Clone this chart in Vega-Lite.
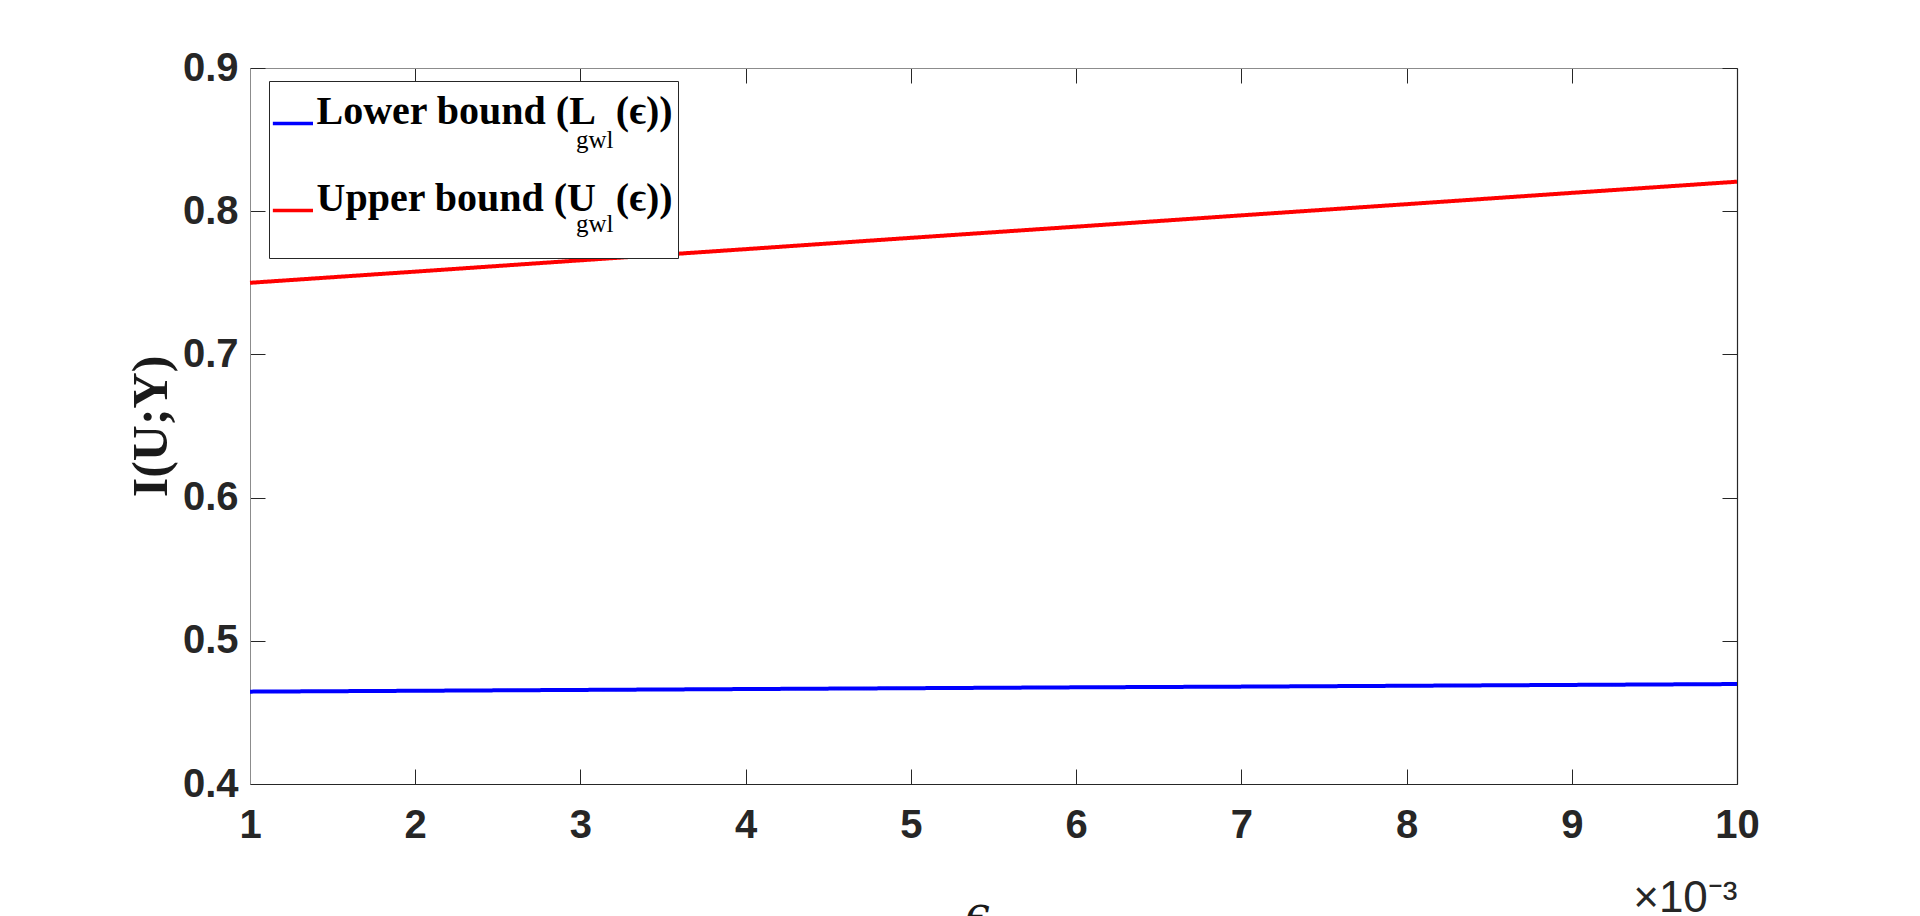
{
  "$schema": "https://vega.github.io/schema/vega-lite/v6.json",
  "width": 1487,
  "height": 716,
  "autosize": {"type": "none"},
  "padding": {"left": 250, "top": 68, "right": 183, "bottom": 132},
  "background": "white",
  "config": {"view": {"stroke": null}, "axis": {"grid": false}},
  "title": {"text": "ϵ", "orient": "bottom", "offset": -27, "dx": -16, "font": "DejaVu Serif", "fontStyle": "italic", "fontWeight": "normal", "fontSize": 44, "color": "#1a1a1a"},
  "data": {"values": [
    {"epsilon": 0.001, "I": 0.4645, "series": "Lower"},
    {"epsilon": 0.002, "I": 0.4651, "series": "Lower"},
    {"epsilon": 0.003, "I": 0.4657, "series": "Lower"},
    {"epsilon": 0.004, "I": 0.4663, "series": "Lower"},
    {"epsilon": 0.005, "I": 0.4669, "series": "Lower"},
    {"epsilon": 0.006, "I": 0.4675, "series": "Lower"},
    {"epsilon": 0.007, "I": 0.4680, "series": "Lower"},
    {"epsilon": 0.008, "I": 0.4686, "series": "Lower"},
    {"epsilon": 0.009, "I": 0.4692, "series": "Lower"},
    {"epsilon": 0.010, "I": 0.4698, "series": "Lower"},
    {"epsilon": 0.001, "I": 0.7500, "series": "Upper"},
    {"epsilon": 0.002, "I": 0.7578, "series": "Upper"},
    {"epsilon": 0.003, "I": 0.7657, "series": "Upper"},
    {"epsilon": 0.004, "I": 0.7735, "series": "Upper"},
    {"epsilon": 0.005, "I": 0.7814, "series": "Upper"},
    {"epsilon": 0.006, "I": 0.7892, "series": "Upper"},
    {"epsilon": 0.007, "I": 0.7971, "series": "Upper"},
    {"epsilon": 0.008, "I": 0.8049, "series": "Upper"},
    {"epsilon": 0.009, "I": 0.8128, "series": "Upper"},
    {"epsilon": 0.010, "I": 0.8206, "series": "Upper"}
  ]},
  "layer": [
    {
      "mark": {"type": "line", "strokeWidth": 4},
      "encoding": {
        "x": {
          "field": "epsilon", "type": "quantitative",
          "scale": {"domain": [0.001, 0.01], "nice": false, "zero": false},
          "axis": {
            "orient": "bottom",
            "values": [0.001, 0.002, 0.003, 0.004, 0.005, 0.006, 0.007, 0.008, 0.009, 0.01],
            "labelExpr": "format(round(datum.value * 1000), 'd')",
            "labelFont": "Liberation Sans", "labelFontWeight": "bold", "labelFontSize": 40, "labelColor": "#262626",
            "labelPadding": 36, "labelOverlap": false, "labelFlush": false,
            "tickSize": -15, "tickColor": "#262626", "tickWidth": 1,
            "domainColor": "#262626", "domainWidth": 1.2,
            "title": "×10⁻³",
            "titleFont": "Liberation Sans", "titleFontWeight": "normal", "titleFontSize": 44, "titleColor": "#262626",
            "titleAnchor": "end", "titleAlign": "right", "titleBaseline": "alphabetic",
            "titleX": 1487, "titleY": 127
          }
        },
        "y": {
          "field": "I", "type": "quantitative",
          "scale": {"domain": [0.4, 0.9], "nice": false, "zero": false},
          "axis": {
            "orient": "left",
            "values": [0.4, 0.5, 0.6, 0.7, 0.8, 0.9],
            "format": ".1f",
            "labelFont": "Liberation Sans", "labelFontWeight": "bold", "labelFontSize": 40, "labelColor": "#262626",
            "labelPadding": 27, "labelOverlap": false,
            "tickSize": -15, "tickColor": "#262626", "tickWidth": 1,
            "domainColor": "#8c8c8c", "domainWidth": 1,
            "title": "I(U;Y)",
            "titleFont": "Liberation Serif", "titleFontWeight": "bold", "titleFontSize": 50, "titleColor": "#1a1a1a",
            "titlePadding": 6
          }
        },
        "color": {
          "field": "series", "type": "nominal",
          "scale": {"domain": ["Lower", "Upper"], "range": ["#0000ff", "#ff0000"]},
          "legend": {
            "title": null, "orient": "none", "legendX": 19, "legendY": 13,
            "padding": 4, "strokeColor": "#262626", "fillColor": "white",
            "symbolType": "M-1.1,0H0M0,-1M0,1", "symbolSize": 5329, "symbolStrokeWidth": 3.5, "symbolOffset": 1.5,
            "labelOffset": -35, "labelFont": "Liberation Serif", "labelFontWeight": "bold", "labelFontSize": 40,
            "labelColor": "black", "labelLimit": 1000, "labelBaseline": "alphabetic", "rowPadding": 0,
            "labelExpr": "datum.label == 'Lower' ? 'Lower bound (L\u00a0\u00a0(ϵ))' : 'Upper bound (U\u00a0\u00a0(ϵ))'"
          }
        },
        "strokeDash": {
          "field": "series", "type": "nominal",
          "scale": {"range": [[1, 0], [1, 0]]},
          "legend": {
            "title": null, "orient": "none", "legendX": 19, "legendY": 34,
            "padding": 4,
            "symbolType": "M-1,0H0M0,-0.96M0,0.94", "symbolSize": 6241, "symbolStrokeWidth": 3.5, "symbolOpacity": 0,
            "labelOffset": 220, "labelFont": "Liberation Serif", "labelFontWeight": "normal", "labelFontSize": 25,
            "labelColor": "black", "labelLimit": 1000, "labelBaseline": "alphabetic", "rowPadding": 5,
            "labelExpr": "'gwl'"
          }
        }
      }
    },
    {
      "mark": {"type": "line", "opacity": 0},
      "encoding": {
        "x": {
          "field": "epsilon", "type": "quantitative",
          "scale": {"domain": [0.001, 0.01], "nice": false, "zero": false},
          "axis": {
            "orient": "top",
            "values": [0.001, 0.002, 0.003, 0.004, 0.005, 0.006, 0.007, 0.008, 0.009, 0.01],
            "labels": false, "title": null,
            "tickSize": -15, "tickColor": "#262626", "tickWidth": 1,
            "domainColor": "#8c8c8c", "domainWidth": 1
          }
        },
        "y": {
          "field": "I", "type": "quantitative",
          "scale": {"domain": [0.4, 0.9], "nice": false, "zero": false},
          "axis": {
            "orient": "right",
            "values": [0.4, 0.5, 0.6, 0.7, 0.8, 0.9],
            "labels": false, "title": null,
            "tickSize": -15, "tickColor": "#262626", "tickWidth": 1,
            "domainColor": "#262626", "domainWidth": 1.2
          }
        },
        "detail": {"field": "series"}
      }
    }
  ],
  "resolve": {
    "scale": {"x": "independent", "y": "independent"},
    "axis": {"x": "independent", "y": "independent"}
  }
}
